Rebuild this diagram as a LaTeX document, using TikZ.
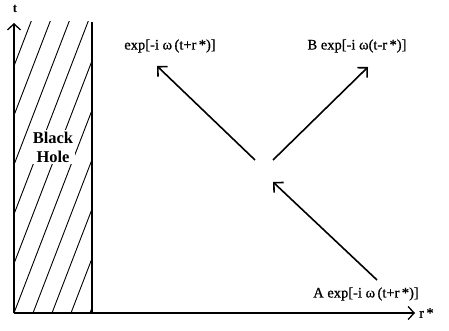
\documentclass[tikz,border=0pt]{standalone}
\usepackage{fontspec}
\setmainfont{Liberation Serif}
\newfontfamily\lblfont[FakeBold=0.8]{Liberation Serif}
\usetikzlibrary{arrows.meta}
\begin{document}
\begin{tikzpicture}[x=1pt,y=-1pt,
  axis/.style={line width=1.3pt,-{Straight Barb[length=6pt,width=13pt,line width=1.3pt]}},
  wave/.style={line width=1.6pt,-{Straight Barb[length=7pt,width=14pt,line width=1.6pt]}},
  lbl/.style={font=\lblfont\fontsize{14.5}{16}\selectfont, inner sep=0pt},
  hatch/.style={line width=0.9pt}]
\useasboundingbox (0,0) rectangle (449,331);
% hatching
\begin{scope}
\clip (14,22) rectangle (92,313);
\foreach \k in {-9,...,4}{
  \draw[hatch] ({33+19*\k},313) -- ({33+19*\k+300/2.6},13);
}
\end{scope}
\coordinate (O) at (14,313);
\coordinate (T) at (14,23);
\coordinate (R) at (415,313);
\coordinate (BHb) at (92,313);
\coordinate (BHt) at (92,22);
\draw[line width=1.3pt] (BHb) -- (BHt);
\draw[axis] (O) -- (T);
\draw[axis] (O) -- (R);
\node[lbl, font=\fontsize{13}{15}\selectfont\bfseries] (tl) at (15,9) {t};
\node[lbl, anchor=west] (rl) at (419,313) {r\,*};
\node[lbl, fill=white, align=center, inner sep=2pt, font=\fontsize{16.5}{19}\selectfont\bfseries] (bh) at (53,147) {Black\\Hole};
% waves
\coordinate (a1s) at (255,160);
\coordinate (a1e) at (157,66);
\coordinate (a2s) at (273,160);
\coordinate (a2e) at (368,67);
\coordinate (a3s) at (377,280);
\coordinate (a3e) at (273,182);
\draw[wave] (a1s) -- (a1e);
\draw[wave] (a2s) -- (a2e);
\draw[wave] (a3s) -- (a3e);
\node[lbl] (l1) at (170,46) {exp[-i ω\,(t+r\,*)]};
\node[lbl] (l2) at (357,46) {B exp[-i ω(t-r\,*)]};
\node[lbl] (l3) at (366,294) {A exp[-i ω\,(t+r\,*)]};
\end{tikzpicture}
\end{document}
